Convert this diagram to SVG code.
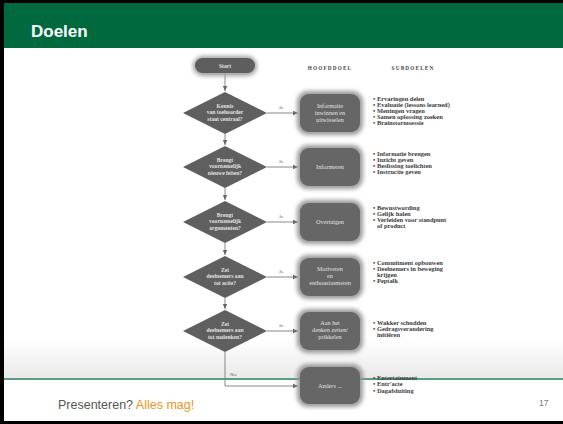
<svg xmlns="http://www.w3.org/2000/svg" width="563" height="424" viewBox="0 0 563 424">
<defs>
<linearGradient id="bg" x1="0" y1="0" x2="0" y2="1">
<stop offset="0" stop-color="#ffffff"/>
<stop offset="1" stop-color="#e9e9e9"/>
</linearGradient>
<filter id="glow" x="-30%" y="-30%" width="160%" height="160%"><feGaussianBlur stdDeviation="2.2"/></filter>
<filter id="soft" x="-10%" y="-10%" width="120%" height="120%"><feGaussianBlur stdDeviation="0.5"/></filter>
<marker id="arr" markerWidth="6" markerHeight="6" refX="5" refY="3" orient="auto" markerUnits="userSpaceOnUse">
<path d="M0,0.8 L5,3 L0,5.2 Z" fill="#666"/>
</marker>
<style>
.con{fill:none;stroke:#7a7a7a;stroke-width:0.9}
.dia{fill:#5e5e5e}
.box{fill:#666666}
.halo{fill:#9a9a9a}
.dt{font-family:"Liberation Serif",serif;font-size:5.6px;font-weight:bold;fill:#e2e2e2;text-anchor:middle}
.bt{font-family:"Liberation Serif",serif;font-size:6.2px;fill:#e0e0e0;text-anchor:middle}
.li{font-family:"Liberation Serif",serif;font-size:6.4px;font-weight:bold;fill:#3a3a3a}
.hd{font-family:"Liberation Serif",serif;font-size:5.2px;font-weight:bold;fill:#444;letter-spacing:1.2px;text-anchor:middle}
.lbl{font-family:"Liberation Serif",serif;font-size:4.5px;fill:#555}
</style>
</defs>
<rect x="0" y="0" width="563" height="424" fill="#000"/>
<rect x="4" y="3" width="559" height="418" fill="#fff"/>
<rect x="4" y="338" width="559" height="41" fill="url(#bg)"/>
<rect x="4" y="3" width="559" height="45" fill="#006a3e"/>
<text x="31" y="37" font-family="Liberation Sans, Arial, sans-serif" font-size="17" font-weight="bold" fill="#fff">Doelen</text>
<line x1="4" y1="379" x2="563" y2="379" stroke="#5a9e80" stroke-width="2"/>
<text x="58" y="409" font-family="Liberation Sans, Arial, sans-serif" font-size="12.5" fill="#555">Presenteren? <tspan fill="#f0921c">Alles mag!</tspan></text>
<text x="539" y="406" font-family="Liberation Sans, Arial, sans-serif" font-size="8.5" fill="#777">17</text>

<text class="hd" x="330" y="70">HOOFDDOEL</text>
<text class="hd" x="413" y="70">SUBDOELEN</text>

<g id="connectors">
<path class="con" d="M225,73 V91" marker-end="url(#arr)"/>
<path class="con" d="M225,134 V145" marker-end="url(#arr)"/>
<path class="con" d="M225,188 V200" marker-end="url(#arr)"/>
<path class="con" d="M225,243 V255" marker-end="url(#arr)"/>
<path class="con" d="M225,298 V309" marker-end="url(#arr)"/>
<path class="con" d="M225,352 V386 H298" marker-end="url(#arr)"/>
<path class="con" d="M267,113 H298" marker-end="url(#arr)"/>
<path class="con" d="M267,167 H298" marker-end="url(#arr)"/>
<path class="con" d="M267,222 H298" marker-end="url(#arr)"/>
<path class="con" d="M267,277 H298" marker-end="url(#arr)"/>
<path class="con" d="M267,331 H298" marker-end="url(#arr)"/>
<text class="lbl" x="279" y="109">Ja</text>
<text class="lbl" x="279" y="163">Ja</text>
<text class="lbl" x="279" y="218">Ja</text>
<text class="lbl" x="279" y="273">Ja</text>
<text class="lbl" x="279" y="327">Ja</text>
<text class="lbl" x="230" y="376">Nee</text>
</g>

<g id="start">
<rect x="193" y="56" width="64" height="20" rx="10" fill="#a0a0a0" filter="url(#glow)"/>
<rect x="195" y="58" width="60" height="15" rx="7.5" class="dia"/>
<text class="dt" x="225" y="67.5">Start</text>
</g>

<g id="d1">
<path class="dia" d="M225,92 L267,113 L225,134 L183,113 Z" filter="url(#soft)"/>
<text class="dt" x="225" y="107.5">Kennis</text>
<text class="dt" x="225" y="114">van toehoorder</text>
<text class="dt" x="225" y="120.5">staat centraal?</text>
</g>
<g id="d2">
<path class="dia" d="M225,146 L267,167 L225,188 L183,167 Z" filter="url(#soft)"/>
<text class="dt" x="225" y="161.5">Brengt</text>
<text class="dt" x="225" y="168">voornamelijk</text>
<text class="dt" x="225" y="174.5">nieuwe feiten?</text>
</g>
<g id="d3">
<path class="dia" d="M225,201 L267,222 L225,243 L183,222 Z" filter="url(#soft)"/>
<text class="dt" x="225" y="216.5">Brengt</text>
<text class="dt" x="225" y="223">voornamelijk</text>
<text class="dt" x="225" y="229.5">argumenten?</text>
</g>
<g id="d4">
<path class="dia" d="M225,256 L267,277 L225,298 L183,277 Z" filter="url(#soft)"/>
<text class="dt" x="225" y="271.5">Zet</text>
<text class="dt" x="225" y="278">deelnemers aan</text>
<text class="dt" x="225" y="284.5">tot actie?</text>
</g>
<g id="d5">
<path class="dia" d="M225,310 L267,331 L225,352 L183,331 Z" filter="url(#soft)"/>
<text class="dt" x="225" y="325.5">Zet</text>
<text class="dt" x="225" y="332">deelnemers aan</text>
<text class="dt" x="225" y="338.5">tot nadenken?</text>
</g>

<g id="b1">
<rect class="halo" x="297" y="91" width="66" height="44" rx="11" filter="url(#glow)"/>
<rect class="box" x="300" y="94" width="60" height="38" rx="9"/>
<text class="bt" x="330" y="108">Informatie</text>
<text class="bt" x="330" y="115">inwinnen en</text>
<text class="bt" x="330" y="122">uitwisselen</text>
</g>
<g id="b2">
<rect class="halo" x="297" y="145" width="66" height="44" rx="11" filter="url(#glow)"/>
<rect class="box" x="300" y="148" width="60" height="38" rx="9"/>
<text class="bt" x="330" y="169">Informeren</text>
</g>
<g id="b3">
<rect class="halo" x="297" y="200" width="66" height="44" rx="11" filter="url(#glow)"/>
<rect class="box" x="300" y="203" width="60" height="38" rx="9"/>
<text class="bt" x="330" y="224">Overtuigen</text>
</g>
<g id="b4">
<rect class="halo" x="297" y="255" width="66" height="44" rx="11" filter="url(#glow)"/>
<rect class="box" x="300" y="258" width="60" height="38" rx="9"/>
<text class="bt" x="330" y="271">Motiveren</text>
<text class="bt" x="330" y="278">en</text>
<text class="bt" x="330" y="285">enthousiasmeren</text>
</g>
<g id="b5">
<rect class="halo" x="297" y="309" width="66" height="44" rx="11" filter="url(#glow)"/>
<rect class="box" x="300" y="312" width="60" height="38" rx="9"/>
<text class="bt" x="330" y="325">Aan het</text>
<text class="bt" x="330" y="332">denken zetten/</text>
<text class="bt" x="330" y="339">prikkelen</text>
</g>
<g id="b6">
<rect class="halo" x="297" y="364" width="66" height="43" rx="11" filter="url(#glow)"/>
<rect class="box" x="300" y="367" width="60" height="37" rx="9"/>
<text class="bt" x="330" y="387.5">Anders ...</text>
</g>

<g id="l1">
<text class="li" x="373" y="101">•<tspan x="377">Ervaringen delen</tspan></text>
<text class="li" x="373" y="107">•<tspan x="377">Evaluatie (lessons learned)</tspan></text>
<text class="li" x="373" y="113">•<tspan x="377">Meningen vragen</tspan></text>
<text class="li" x="373" y="119">•<tspan x="377">Samen oplossing zoeken</tspan></text>
<text class="li" x="373" y="125">•<tspan x="377">Brainstormsessie</tspan></text>
</g>
<g id="l2">
<text class="li" x="373" y="155.5">•<tspan x="377">Informatie brengen</tspan></text>
<text class="li" x="373" y="161.5">•<tspan x="377">Inzicht geven</tspan></text>
<text class="li" x="373" y="167.5">•<tspan x="377">Beslissing toelichten</tspan></text>
<text class="li" x="373" y="173.5">•<tspan x="377">Instructie geven</tspan></text>
</g>
<g id="l3">
<text class="li" x="373" y="210">•<tspan x="377">Bewustwording</tspan></text>
<text class="li" x="373" y="216">•<tspan x="377">Gelijk halen</tspan></text>
<text class="li" x="373" y="222">•<tspan x="377">Verleiden voor standpunt</tspan></text>
<text class="li" x="377" y="228">of product</text>
</g>
<g id="l4">
<text class="li" x="373" y="265">•<tspan x="377">Commitment opbouwen</tspan></text>
<text class="li" x="373" y="271">•<tspan x="377">Deelnemers in beweging</tspan></text>
<text class="li" x="377" y="277">krijgen</text>
<text class="li" x="373" y="283">•<tspan x="377">Peptalk</tspan></text>
</g>
<g id="l5">
<text class="li" x="373" y="325">•<tspan x="377">Wakker schudden</tspan></text>
<text class="li" x="373" y="331">•<tspan x="377">Gedragsverandering</tspan></text>
<text class="li" x="377" y="337">initiëren</text>
</g>
<g id="l6">
<text class="li" x="373" y="379.5">•<tspan x="377">Entertainment</tspan></text>
<text class="li" x="373" y="386">•<tspan x="377">Entr'acte</tspan></text>
<text class="li" x="373" y="392.5">•<tspan x="377">Dagafsluiting</tspan></text>
</g>
</svg>
